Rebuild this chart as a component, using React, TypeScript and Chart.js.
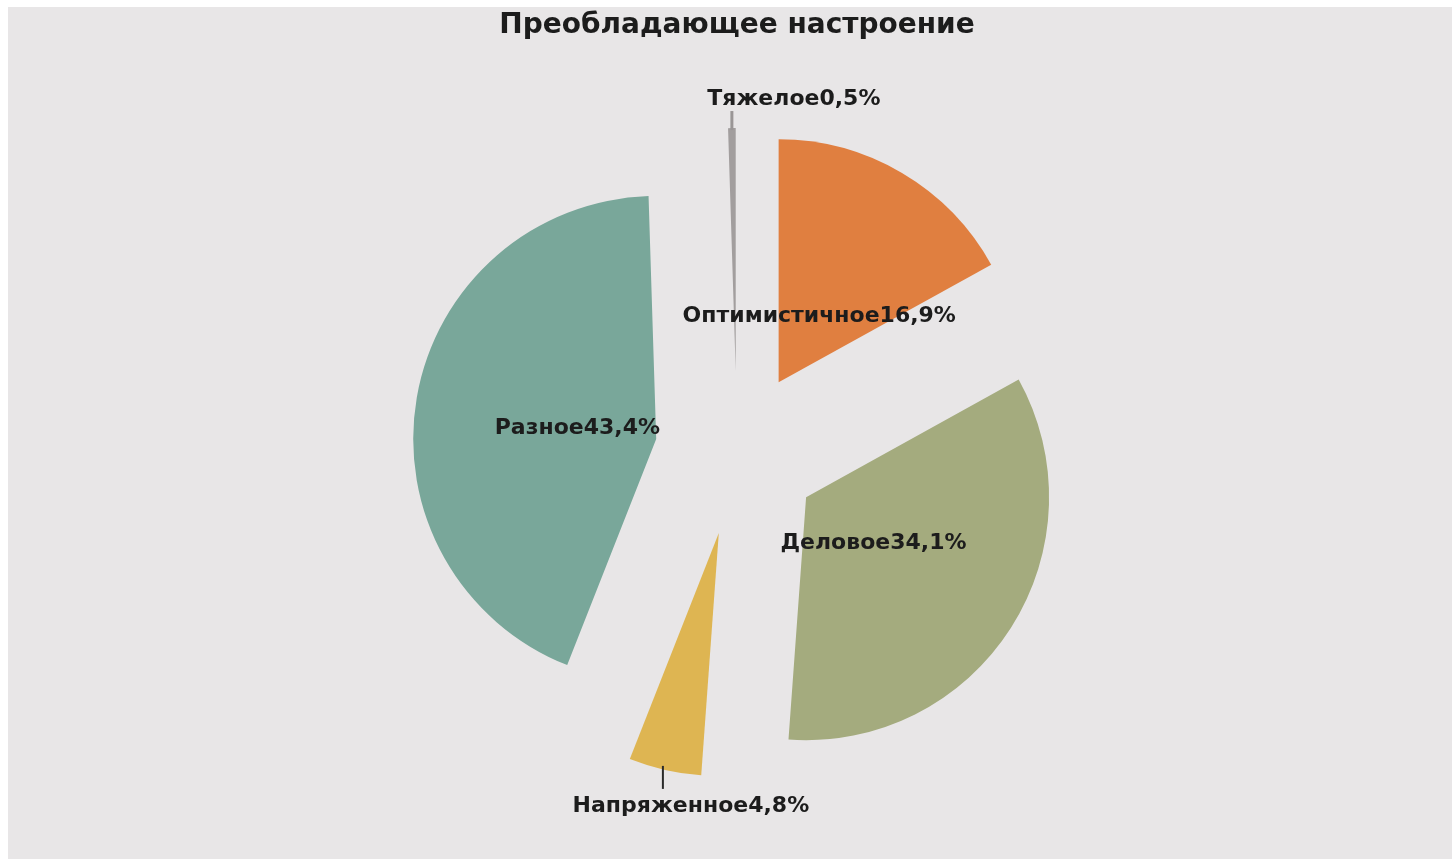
import { useEffect, useRef } from "react";
import { Chart, registerables } from "chart.js";

Chart.register(...registerables);

const title = "Преобладающее настроение";
const categories = ["Оптимистичное", "Деловое", "Напряженное", "Разное", "Тяжелое"];
const values = [16.9, 34.1, 4.8, 43.4, 0.5];
const valueLabels = ["16,9%", "34,1%", "4,8%", "43,4%", "0,5%"];
const colors = ["#e07f40", "#a4ab7e", "#deb552", "#79a79a", "#a29e9e"];
const labelPlacement = ["inside", "inside", "below", "inside", "above"];

const W = 1444;
const H = 852;
const PULL = 82;
const RADIUS = 243;
const FONT = '"DejaVu Sans", "Liberation Sans", sans-serif';

const explodePlugin = {
  id: "explode",
  beforeDatasetDraw(chart: any, args: any) {
    const ctx = chart.ctx;
    args.meta.data.forEach((arc: any) => {
      const mid = (arc.startAngle + arc.endAngle) / 2;
      ctx.save();
      ctx.translate(Math.cos(mid) * PULL, Math.sin(mid) * PULL);
      arc.draw(ctx);
      ctx.restore();
    });
    return false;
  },
  afterDraw(chart: any) {
    const ctx = chart.ctx;
    const meta = chart.getDatasetMeta(0);
    ctx.save();
    ctx.fillStyle = "#1c1c1c";
    ctx.textAlign = "center";
    ctx.textBaseline = "middle";
    ctx.font = `bold 28px ${FONT}`;
    const ca = chart.chartArea;
    ctx.fillText(title, (ca.left + ca.right) / 2, 19);

    ctx.font = `bold 22px ${FONT}`;
    meta.data.forEach((arc: any, i: number) => {
      const mid = (arc.startAngle + arc.endAngle) / 2;
      const ux = Math.cos(mid);
      const uy = Math.sin(mid);
      const ax = arc.x + ux * PULL;
      const ay = arc.y + uy * PULL;
      const text = categories[i] + valueLabels[i];
      const place = labelPlacement[i];
      if (place === "inside") {
        ctx.fillText(text, ax + ux * 80, ay + uy * 80 + 3);
      } else {
        const ox = ax + ux * arc.outerRadius;
        const oy = ay + uy * arc.outerRadius;
        ctx.beginPath();
        if (place === "below") {
          ctx.strokeStyle = "#2a2a2a";
          ctx.lineWidth = 2;
          ctx.moveTo(ox - 2, oy - 4);
          ctx.lineTo(ox - 2, oy + 19);
          ctx.stroke();
          ctx.fillText(text, ox + 26, oy + 36);
        } else {
          ctx.strokeStyle = "#9a9696";
          ctx.lineWidth = 3;
          ctx.moveTo(ox, oy + 2);
          ctx.lineTo(ox, oy - 17);
          ctx.stroke();
          ctx.fillText(text, ox + 62, oy - 29);
        }
      }
    });
    ctx.restore();
  },
};

export default function App() {
  const ref = useRef<HTMLCanvasElement | null>(null);
  useEffect(() => {
    if (!ref.current) return;
    const chart = new Chart(ref.current, {
      type: "pie",
      data: {
        labels: categories,
        datasets: [
          {
            data: values,
            backgroundColor: colors,
            borderWidth: 0,
          },
        ],
      },
      options: {
        responsive: false,
        animation: false,
        radius: RADIUS,
        layout: { padding: { left: 14, top: 40, right: 0, bottom: 0 } },
        plugins: {
          legend: { display: false },
          tooltip: { enabled: false },
          title: { display: false },
        },
      } as any,
      plugins: [explodePlugin],
    });
    return () => chart.destroy();
  }, []);
  return (
    <div
      style={{
        position: "fixed",
        left: 8,
        top: 7,
        width: W,
        height: H,
        background: "#e8e6e7",
        overflow: "hidden",
      }}
    >
      <canvas ref={ref} width={W} height={H} style={{ display: "block" }} />
    </div>
  );
}
